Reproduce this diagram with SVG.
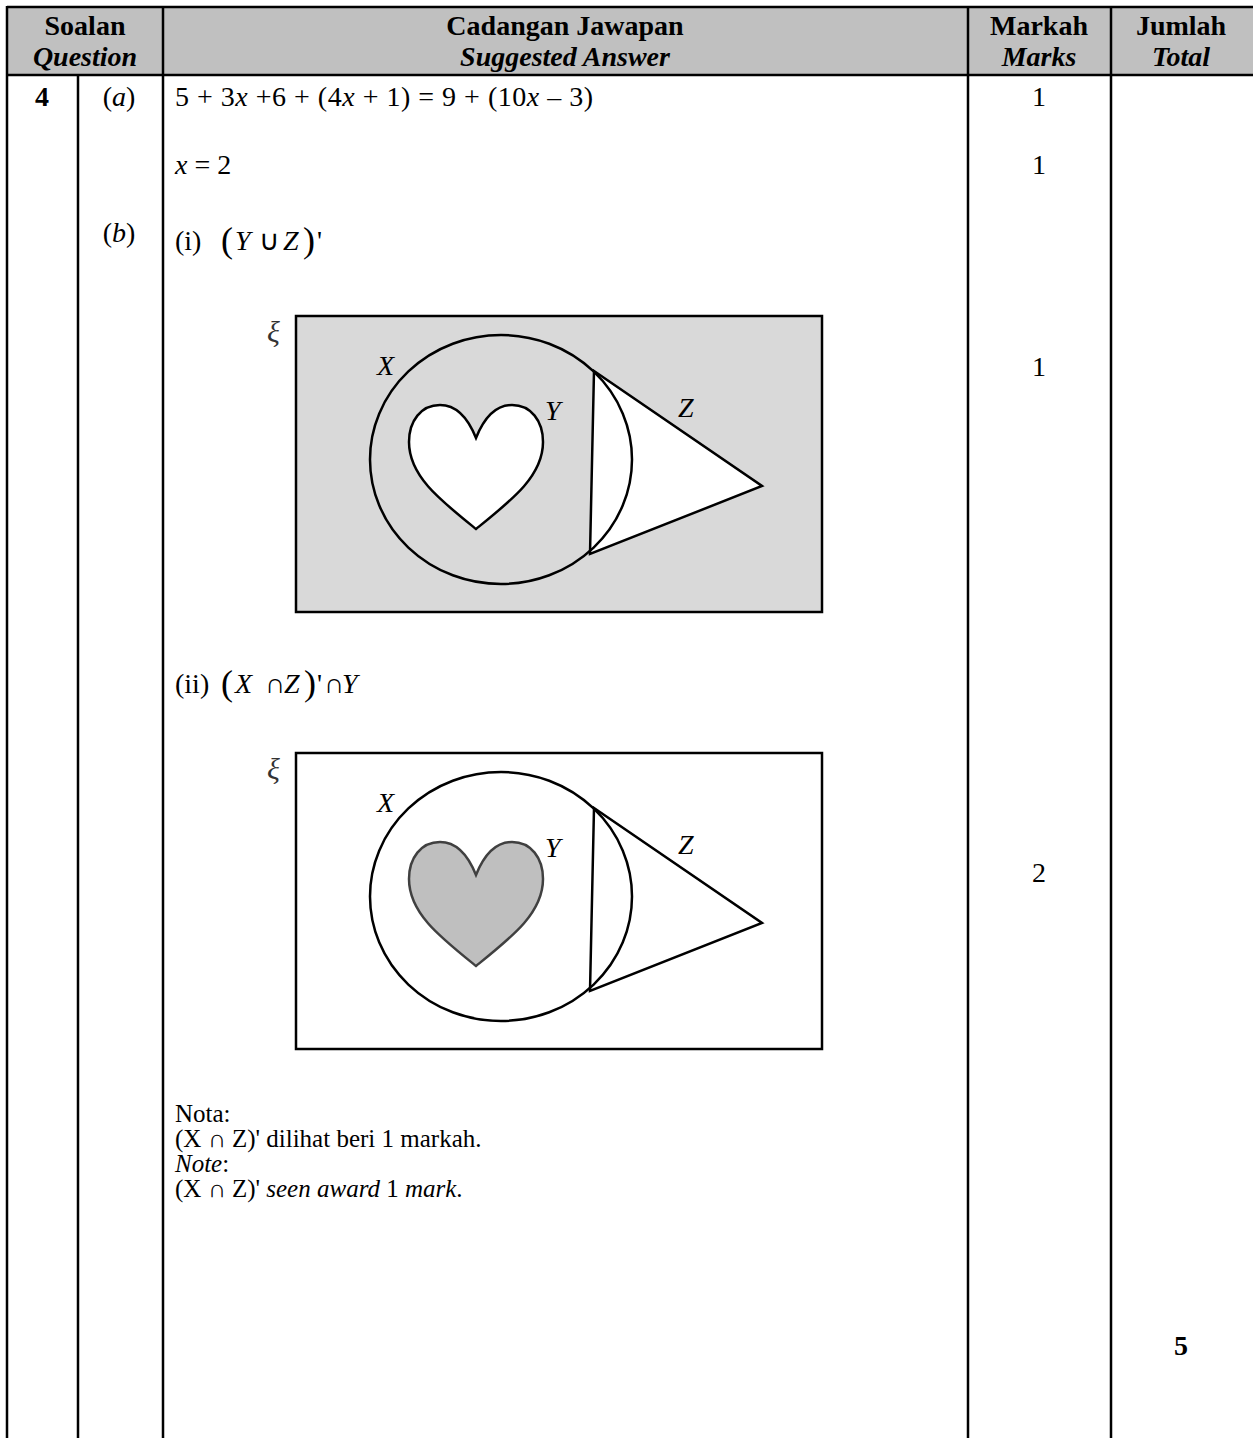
<svg xmlns="http://www.w3.org/2000/svg" width="1253" height="1438" viewBox="0 0 1253 1438">
<style>
text{font-family:"Liberation Serif","Times New Roman",serif;font-size:28px;fill:#000}
.b{font-weight:bold}
.i{font-style:italic}
.c{text-anchor:middle}
.s{stroke:#000;stroke-width:2.5}
.v{stroke:#000;stroke-width:2.5}
.big{font-size:36px}
.lbl{font-size:28px;font-style:italic}
.xi{font-size:30px;font-style:italic;fill:#333}
.note{font-size:25px}
</style>
<defs>
<path id="heart" d="M476,438 C468,418 456,405 440,405 C421,405 409,421 409,442 C409,476 440,500 476,529 C512,500 543,476 543,442 C543,421 531,405 512,405 C496,405 484,418 476,438 Z"/>
<polygon id="tri" points="594,371 762,486 590,554"/>
</defs>
<g id="table">
<rect x="7" y="7" width="1246" height="68" fill="#c0c0c0"/>
<line class="v" x1="7" y1="7" x2="1253" y2="7"/>
<line class="v" x1="7" y1="75" x2="1253" y2="75"/>
<line class="v" x1="7" y1="6" x2="7" y2="1438"/>
<line class="v" x1="78" y1="75" x2="78" y2="1438"/>
<line class="v" x1="163" y1="6" x2="163" y2="1438"/>
<line class="v" x1="968" y1="6" x2="968" y2="1438"/>
<line class="v" x1="1111" y1="6" x2="1111" y2="1438"/>
</g>
<g id="header">
<text class="b c" x="85" y="35">Soalan</text>
<text class="b i c" x="85" y="66">Question</text>
<text class="b c" x="565" y="35">Cadangan Jawapan</text>
<text class="b i c" x="565" y="66">Suggested Answer</text>
<text class="b c" x="1039" y="35">Markah</text>
<text class="b i c" x="1039" y="66">Marks</text>
<text class="b c" x="1181" y="35">Jumlah</text>
<text class="b i c" x="1181" y="66">Total</text>
</g>
<g id="part-a">
<text class="b c" x="42" y="106">4</text>
<text class="c" x="119" y="106">(<tspan class="i">a</tspan>)</text>
<text x="175" y="106" textLength="418" lengthAdjust="spacing">5 + 3<tspan class="i">x</tspan> +6 + (4<tspan class="i">x</tspan> + 1) = 9 + (10<tspan class="i">x</tspan> – 3)</text>
<text class="c" x="1039" y="106">1</text>
<text x="175" y="174"><tspan class="i">x</tspan> = 2</text>
<text class="c" x="1039" y="174">1</text>
</g>
<g id="part-b-i">
<text class="c" x="119" y="242">(<tspan class="i">b</tspan>)</text>
<text x="175" y="250">(i)</text>
<text class="big" x="221" y="252">(</text>
<text class="i" x="235" y="250">Y</text>
<text x="259" y="250">∪</text>
<text class="i" x="283" y="250">Z</text>
<text class="big" x="303" y="252">)</text>
<text x="317" y="250">'</text>
<text class="c" x="1039" y="376">1</text>
</g>
<g id="venn1">
<rect x="296" y="316" width="526" height="296" fill="#d9d9d9" class="s"/>
<use href="#tri" fill="#fff"/>
<use href="#heart" fill="#fff" class="s"/>
<ellipse cx="501" cy="459.5" rx="131" ry="124.5" fill="none" class="s"/>
<use href="#tri" fill="none" class="s"/>
<text class="xi" x="267" y="342">ξ</text>
<text class="lbl" x="377" y="375">X</text>
<text class="lbl" x="545" y="420">Y</text>
<text class="lbl" x="678" y="417">Z</text>
</g>
<g id="part-b-ii">
<text x="175" y="693">(ii)</text>
<text class="big" x="221" y="695">(</text>
<text class="i" x="235" y="693">X</text>
<text x="265" y="693">∩</text>
<text class="i" x="284" y="693">Z</text>
<text class="big" x="304" y="695">)</text>
<text x="317" y="693">'</text>
<text x="324" y="693">∩</text>
<text class="i" x="342" y="693">Y</text>
<text class="c" x="1039" y="882">2</text>
</g>
<g id="venn2" transform="translate(0,437)">
<rect x="296" y="316" width="526" height="296" fill="#fff" class="s"/>
<use href="#heart" fill="#bfbfbf" stroke="#404040" stroke-width="2.5"/>
<ellipse cx="501" cy="459.5" rx="131" ry="124.5" fill="none" class="s"/>
<use href="#tri" fill="none" class="s"/>
<text class="xi" x="267" y="342">ξ</text>
<text class="lbl" x="377" y="375">X</text>
<text class="lbl" x="545" y="420">Y</text>
<text class="lbl" x="678" y="417">Z</text>
</g>
<g id="note">
<text class="note" x="175" y="1122">Nota:</text>
<text class="note" x="175" y="1147">(X ∩ Z)' dilihat beri 1 markah.</text>
<text class="note" x="175" y="1172"><tspan class="i">Note</tspan>:</text>
<text class="note" x="175" y="1197">(X ∩ Z)' <tspan class="i">seen award</tspan> 1 <tspan class="i">mark</tspan>.</text>
</g>
<g id="total">
<text class="b c" x="1181" y="1355">5</text>
</g>
</svg>
